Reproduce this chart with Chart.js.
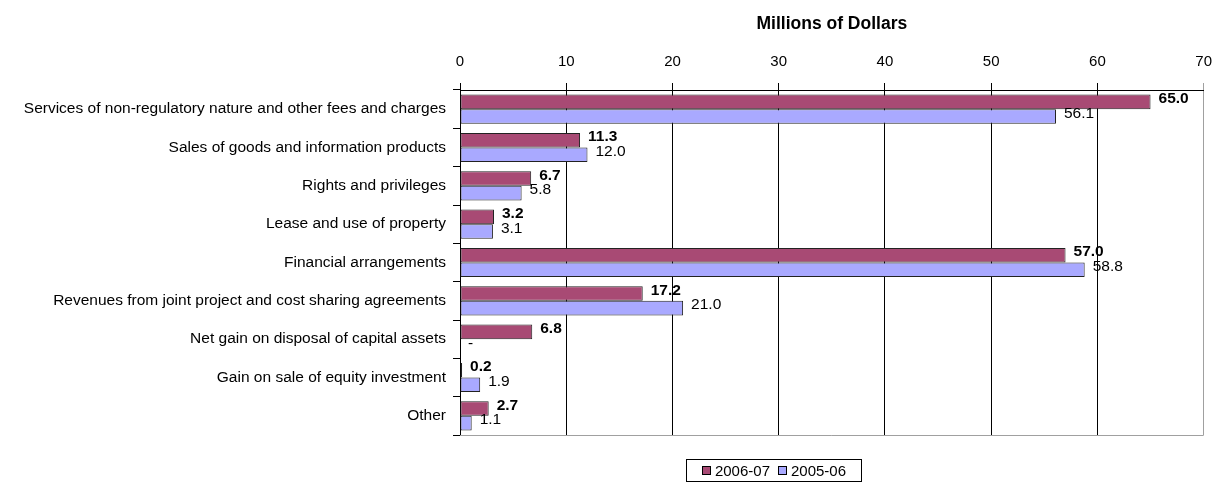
<!DOCTYPE html>
<html>
<head>
<meta charset="utf-8">
<script src="https://cdn.jsdelivr.net/npm/chart.js"></script>
<style>
  body { margin: 0; background: #fff; font-family: "Liberation Sans", Arial, sans-serif; }
  #wrap { position: relative; width: 1224px; height: 483px; }
  #legend { position: absolute; left: 686px; top: 459px; width: 174px; height: 21px;
            border: 1px solid #000; display: flex; align-items: center; justify-content: center;
            font-size: 15px; color: #000; }
  #legend span.box { display: inline-block; width: 7px; height: 7px; border: 1px solid #000; margin: 0 4px 0 8px; }
  #legend span.box:first-child { margin-left: 0; }
</style>
</head>
<body>
<div id="wrap">
  <canvas id="chart"></canvas>
  <div id="legend"></div>
</div>
<script>
const categories = [
  'Services of non-regulatory nature and other fees and charges',
  'Sales of goods and information products',
  'Rights and privileges',
  'Lease and use of property',
  'Financial arrangements',
  'Revenues from joint project and cost sharing agreements',
  'Net gain on disposal of capital assets',
  'Gain on sale of equity investment',
  'Other'
];
const rev2006_07 = [65.0, 11.3, 6.7, 3.2, 57.0, 17.2, 6.8, 0.2, 2.7];
const rev2005_06 = [56.1, 12.0, 5.8, 3.1, 58.8, 21.0, 0, 1.9, 1.1];
const xTicks = [0, 10, 20, 30, 40, 50, 60, 70];

const FONT = '"Liberation Sans", Arial, sans-serif';

// value labels at the end of each bar, bold for the current year
const barValues = {
  id: 'barValues',
  afterDatasetsDraw(chart) {
    const ctx = chart.ctx;
    ctx.save();
    ctx.fillStyle = '#000';
    ctx.textBaseline = 'middle';
    ctx.textAlign = 'left';
    chart.data.datasets.forEach((ds, i) => {
      const meta = chart.getDatasetMeta(i);
      const bold = i === 0;
      ctx.font = (bold ? 'bold ' : '') + '15.5px ' + FONT;
      meta.data.forEach((bar, j) => {
        const v = ds.data[j];
        const txt = v === 0 ? '-' : v.toFixed(1);
        ctx.fillText(txt, bar.x + 8, bar.y - 3);
      });
    });
    ctx.restore();
  }
};

// grey line closing the bottom of the plot area
const plotBottom = {
  id: 'plotBottom',
  beforeDatasetsDraw(chart) {
    const { ctx, chartArea: a } = chart;
    ctx.save();
    ctx.strokeStyle = '#a0a0a0';
    ctx.lineWidth = 1;
    ctx.beginPath();
    ctx.moveTo(a.left, a.bottom + 0.5);
    ctx.lineTo(a.right, a.bottom + 0.5);
    ctx.stroke();
    ctx.restore();
  }
};

const ctx = document.getElementById('chart');
const chart = new Chart(ctx, {
  type: 'bar',
  data: {
    labels: categories,
    datasets: [
      {
        label: '2006-07',
        data: rev2006_07,
        backgroundColor: '#a84a74',
        borderColor: '#222',
        borderWidth: 1,
        borderSkipped: false
      },
      {
        label: '2005-06',
        data: rev2005_06,
        backgroundColor: '#a9a9ff',
        borderColor: '#222',
        borderWidth: 1,
        borderSkipped: false
      }
    ]
  },
  options: {
    indexAxis: 'y',
    responsive: true,
    maintainAspectRatio: false,
    animation: false,
    layout: { padding: { left: 0, right: 10, top: 0, bottom: 48 } },
    datasets: { bar: { categoryPercentage: 0.76, barPercentage: 1.0 } },
    scales: {
      x: {
        position: 'top',
        min: 0,
        max: 70,
        afterBuildTicks: (scale) => { scale.ticks = xTicks.map(v => ({ value: v })); },
        afterFit: (scale) => { scale.height = 90; },
        ticks: { color: '#000', font: { family: FONT, size: 15 }, padding: 12 },
        grid: {
          color: (c) => (c.tick && c.tick.value === 70 ? '#a0a0a0' : '#000'),
          lineWidth: 1,
          tickLength: 7,
          drawOnChartArea: true
        },
        border: { color: '#000' },
        title: {
          display: true,
          text: 'Millions of Dollars',
          color: '#000',
          font: { family: FONT, size: 17.5, weight: 'bold' },
          padding: { top: 14, bottom: 10 }
        }
      },
      y: {
        afterFit: (scale) => { scale.width = 460; },
        ticks: { color: '#000', font: { family: FONT, size: 15.5 }, padding: 7 },
        grid: { offset: true, drawOnChartArea: false, color: '#000', tickLength: 7 },
        border: { color: '#000' }
      }
    },
    plugins: {
      legend: { display: false },
      tooltip: { enabled: false }
    }
  },
  plugins: [barValues, plotBottom]
});

// legend below the plot
const legend = document.getElementById('legend');
chart.data.datasets.forEach(ds => {
  const box = document.createElement('span');
  box.className = 'box';
  box.style.background = ds.backgroundColor;
  legend.appendChild(box);
  legend.appendChild(document.createTextNode(ds.label));
});
</script>
</body>
</html>
